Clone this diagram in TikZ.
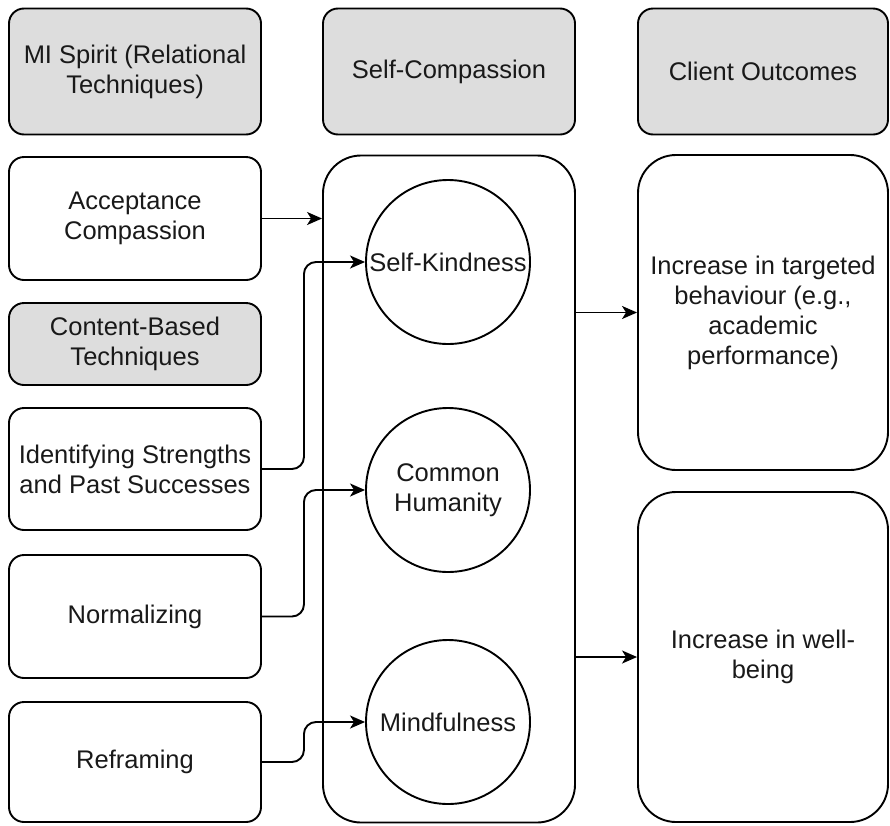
\documentclass[tikz,border=0pt]{standalone}
\usepackage{fontspec}
\setmainfont{Liberation Sans}
\usetikzlibrary{arrows.meta,calc}
\definecolor{boxgray}{RGB}{221,221,221}
\tikzset{
  lbl/.style={font=\fontsize{25.5}{30}\selectfont, align=center, text=black!90},
  sbox/.style={lbl, draw, line width=1.9pt, rounded corners=15pt, minimum width=252pt, inner sep=0pt},
  gbox/.style={sbox, fill=boxgray},
  bigbox/.style={lbl, draw, line width=1.9pt, rounded corners=38pt, inner sep=0pt},
  circ/.style={lbl, draw, circle, line width=1.9pt, minimum size=164pt, inner sep=0pt},
  conn/.style={line width=1.9pt, -{Stealth[length=15pt,width=13pt,inset=4pt]}},
}
\begin{document}
\begin{tikzpicture}[x=1pt,y=-1pt]
\useasboundingbox (0,0) rectangle (890,825);
% left column
\node[gbox, minimum height=126pt] (mi) at (135,71.5) {MI Spirit (Relational\\Techniques)};
\node[sbox, minimum height=123pt] (acc) at (135,218.5) {Acceptance\\Compassion};
\node[gbox, minimum height=82pt] (cb) at (135,344) {Content-Based\\Techniques};
\node[sbox, minimum height=122pt] (ident) at (135,469) {Identifying Strengths\\and Past Successes};
\node[sbox, minimum height=123pt] (norm) at (135,616.5) {Normalizing};
\node[sbox, minimum height=120pt] (refr) at (135,762) {Reframing};
% middle column
\node[gbox, minimum width=252pt, minimum height=126pt] (sc) at (449,71.5) {Self-Compassion};
\node[bigbox, minimum width=252pt, minimum height=667pt] (big) at (449,489) {};
\node[circ] (sk) at (448,262) {Self-Kindness};
\node[circ] (ch) at (448,490) {Common\\Humanity};
\node[circ] (mf) at (448,722) {Mindfulness};
% right column
\node[gbox, minimum width=250pt, minimum height=126pt] (co) at (763,71.5) {Client Outcomes};
\node[bigbox, minimum width=250pt, minimum height=315pt] (out1) at (763,312.5) {Increase in targeted\\behaviour (e.g.,\\academic\\performance)};
\node[bigbox, minimum width=250pt, minimum height=330pt] (out2) at (763,657) {Increase in well-\\being};
% connectors
\draw[conn] (acc.east) -- (acc.east -| big.west);
\draw[conn, rounded corners=12pt] (ident.east) -- ++(42,0) |- (sk.west);
\draw[conn, rounded corners=12pt] (norm.east) -- ++(42,0) |- (ch.west);
\draw[conn, rounded corners=12pt] (refr.east) -- ++(42,0) |- (mf.west);
\draw[conn] (big.east |- out1.west) -- (out1.west);
\draw[conn] (big.east |- out2.west) -- (out2.west);
\end{tikzpicture}
\end{document}
